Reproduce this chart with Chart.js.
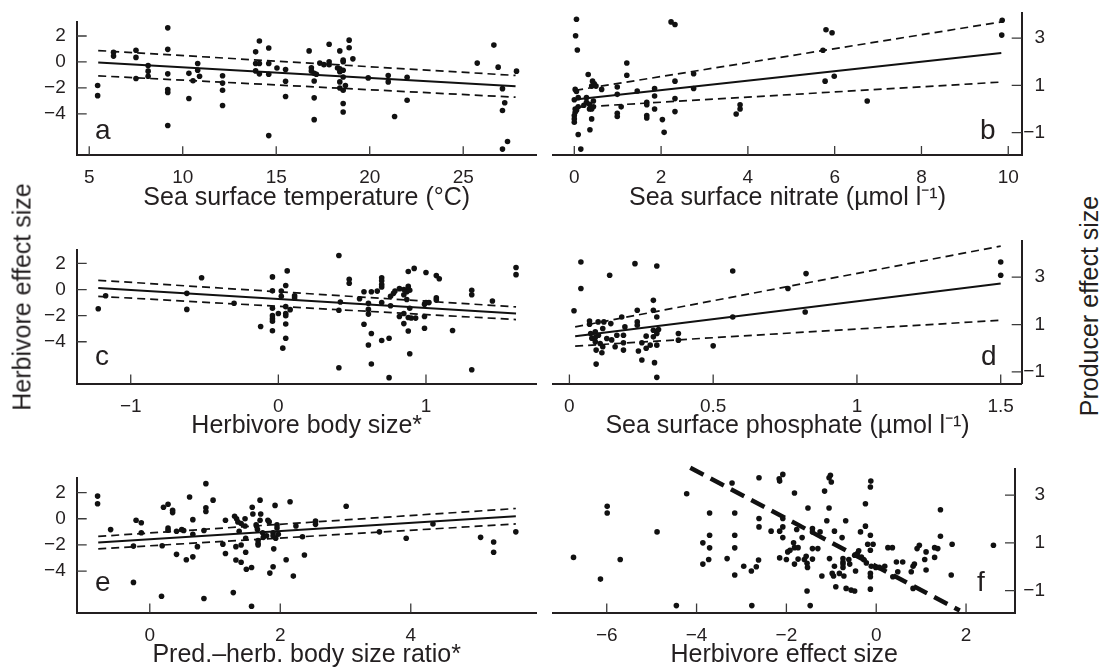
<!DOCTYPE html>
<html><head><meta charset="utf-8">
<script src="https://cdn.jsdelivr.net/npm/chart.js@4.4.1/dist/chart.umd.min.js"></script>
<style>
html,body{margin:0;padding:0;width:1099px;height:669px;overflow:hidden;background:#fff;}
.wrap{position:absolute;}
.lbl{position:absolute;font-family:"Liberation Sans",Arial,Helvetica,sans-serif;color:#231f20;white-space:nowrap;line-height:1;}
.side{font-size:25px;transform:translate(-50%,-50%) rotate(-90deg);}
.let{font-size:28px;line-height:28px;}
</style></head><body>
<div class="wrap" style="left:0;top:0;width:545px;height:213px"><canvas id="ca"></canvas></div>
<div class="wrap" style="left:545px;top:0;width:500px;height:213px"><canvas id="cb"></canvas></div>
<div class="wrap" style="left:0;top:228px;width:545px;height:213px"><canvas id="cc"></canvas></div>
<div class="wrap" style="left:545px;top:228px;width:500px;height:213px"><canvas id="cd"></canvas></div>
<div class="wrap" style="left:0;top:456px;width:545px;height:214px"><canvas id="ce"></canvas></div>
<div class="wrap" style="left:545px;top:456px;width:500px;height:214px"><canvas id="cf"></canvas></div>

<div class="lbl side" style="left:22px;top:297px">Herbivore effect size</div>
<div class="lbl side" style="left:1089px;top:306px">Producer effect size</div>
<div class="lbl let" style="left:95px;top:116px">a</div>
<div class="lbl let" style="left:980px;top:116px">b</div>
<div class="lbl let" style="left:95px;top:342px">c</div>
<div class="lbl let" style="left:981px;top:342px">d</div>
<div class="lbl let" style="left:95px;top:568px">e</div>
<div class="lbl let" style="left:977px;top:568px">f</div>

<script>
// ---------- DATA ----------
// a: Sea surface temperature vs herbivore effect size
const tempX = [5.45,5.45,6.3,6.3,7.5,7.5,7.5,8.15,8.15,8.15,9.2,9.2,9.2,9.2,9.2,9.2,10.33,10.33,10.55,10.8,10.8,10.9,12.13,12.13,12.13,12.13,13.9,13.9,13.9,14.1,14.1,14.1,14.6,14.6,14.6,14.6,15.04,15.5,15.5,15.5,16.76,16.88,16.88,17.03,17.03,17.03,17.03,17.15,17.33,17.55,17.83,17.83,17.83,18.28,18.4,18.4,18.4,18.4,18.4,18.58,18.58,18.58,18.58,18.58,18.58,18.58,18.7,18.9,18.9,19.1,19.92,20.99,20.99,21.33,22.0,22.0,25.75,26.64,26.87,27.1,27.1,27.22,27.1,27.37,27.85];
const tempY = [-1.82,-2.6,0.75,0.45,0.9,0.35,-1.28,-0.28,-0.71,-1.1,2.63,0.97,-0.92,-2.13,-2.35,-4.9,-2.82,-0.88,-1.45,-0.12,-0.64,-1.1,-1.07,-1.63,-2.18,-3.36,0.78,-0.12,-0.69,1.61,-0.12,-0.92,1.07,-0.12,-0.95,-5.68,-0.47,-0.59,-1.49,-2.67,0.85,-0.45,-0.69,-0.88,-1.47,-2.77,-4.45,-0.95,-0.09,-0.21,1.37,0.02,-0.21,-0.47,0.85,-0.52,-0.76,-1.54,-2.01,0.14,0.02,-0.64,-1.16,-2.18,-3.2,-3.86,-1.82,1.68,1.09,0.24,-1.23,-1.04,-1.54,-4.21,-1.18,-2.96,-0.09,1.3,-0.4,-2.06,-3.74,-3.15,-6.72,-6.13,-0.71];
const tempFitX = [5.48, 27.8];
const tempFit = [-0.05, -1.87], tempHi = [0.88, -1.04], tempLo = [-1.07, -2.72];

// b: Sea surface nitrate vs producer effect size
const nitX = [0.05,0.03,0.07,0.02,0.05,0.0,0.09,0.02,0.02,0.0,0.0,0.0,0.09,0.05,0.09,0.15,0.22,0.28,0.28,0.32,0.35,0.35,0.36,0.4,0.4,0.4,0.42,0.46,0.5,0.44,0.44,0.63,0.99,0.99,0.99,0.99,1.08,1.21,1.21,1.45,1.67,1.67,1.67,1.67,1.85,1.85,1.85,2.03,2.07,2.23,2.32,2.32,2.32,2.32,2.75,2.75,3.73,3.82,3.82,5.73,5.78,5.8,5.94,5.99,6.75,9.86,9.85];
const nitY = [3.8,3.1,2.5,0.83,0.74,0.39,0.48,0.0,-0.14,-0.28,-0.42,-0.56,0.09,-0.05,-1.08,-1.7,0.16,0.48,0.28,1.46,0.2,0.0,-0.88,0.97,0.0,-0.42,1.18,1.07,0.97,0.34,0.09,0.83,0.93,0.62,-0.18,-0.32,0.09,1.95,1.43,0.76,0.28,0.18,-0.28,-0.38,0.87,0.55,0.0,-0.45,-0.99,3.69,3.58,1.18,0.44,-0.11,1.49,0.87,-0.21,0.0,0.18,2.49,1.18,3.36,3.23,1.39,0.34,3.76,3.13];
const nitFitX = [0.02, 9.84];
const nitFit = [0.4, 2.37], nitHi = [0.79, 3.69], nitLo = [0.07, 1.14];

// c: Herbivore body size vs herbivore effect size
const bodyX = [-1.22,-1.17,-0.62,-0.62,-0.52,-0.3,-0.12,-0.04,-0.04,-0.04,-0.04,-0.04,-0.04,-0.04,0.0,0.02,0.02,0.03,0.05,0.05,0.05,0.05,0.05,0.05,0.06,0.08,0.11,0.11,0.41,0.41,0.41,0.42,0.48,0.48,0.55,0.58,0.58,0.61,0.61,0.61,0.61,0.63,0.63,0.63,0.67,0.7,0.7,0.7,0.7,0.7,0.7,0.76,0.75,0.75,0.76,0.78,0.79,0.82,0.82,0.85,0.85,0.85,0.85,0.87,0.87,0.88,0.88,0.88,0.88,0.88,0.89,0.89,0.89,0.9,0.92,0.93,0.99,0.99,0.99,1.0,1.02,1.0,1.07,1.09,1.07,1.07,1.18,1.31,1.31,1.31,1.45,1.61,1.61];
const bodyY = [-1.47,-0.48,-0.29,-1.52,0.9,-1.05,-2.83,0.97,-0.1,-1.43,-2.0,-2.23,-2.42,-3.16,-1.83,-0.12,-0.52,-4.49,0.31,-1.31,-1.83,-2.0,-2.64,-3.73,1.43,-1.54,-0.48,-0.64,2.61,-5.99,-1.59,-0.95,0.78,0.48,-0.71,-0.17,-2.66,-1.05,-1.52,-1.88,-4.25,-0.17,-3.37,-5.7,-0.12,0.9,0.67,0.38,0.19,-1.0,-3.9,-1.24,-3.73,-6.75,-0.52,-0.29,-0.12,0.07,-2.07,0.0,-0.4,-1.83,-2.61,-0.17,-0.76,1.38,0.24,0.07,-2.14,-3.18,-0.05,-1.43,-4.92,-2.18,1.62,-2.19,-2.07,-2.97,-1.12,-1.0,-1.0,1.31,1.07,0.83,-0.64,-0.81,-3.14,-0.05,-0.4,-6.15,-0.88,1.69,1.14];
const bodyFitX = [-1.22, 1.61];
const bodyFit = [0.12, -1.83], bodyHi = [0.71, -1.33], bodyLo = [-0.52, -2.3];

// d: Sea surface phosphate vs producer effect size
const phosX = [0.016,0.04,0.04,0.07,0.07,0.074,0.078,0.09,0.09,0.09,0.093,0.093,0.1,0.101,0.107,0.113,0.116,0.116,0.12,0.13,0.14,0.144,0.147,0.159,0.165,0.182,0.188,0.188,0.188,0.193,0.228,0.236,0.236,0.236,0.24,0.252,0.252,0.267,0.267,0.281,0.292,0.292,0.292,0.292,0.296,0.304,0.304,0.304,0.304,0.304,0.31,0.379,0.379,0.5,0.568,0.568,0.76,0.823,0.82,1.5,1.5];
const phosY = [1.58,3.64,2.52,1.15,1.01,0.62,0.42,0.69,0.45,0.27,-0.08,-0.67,1.11,0.55,0.2,-0.19,0.83,0.06,1.11,0.41,3.08,1.04,0.35,0.06,0.55,1.32,0.55,0.23,-0.08,0.9,3.57,1.6,1.11,0.97,-0.12,0.23,-0.5,0.51,0.0,0.13,2.02,1.6,0.76,0.48,-0.61,-1.23,3.47,1.32,0.62,0.13,0.79,0.62,0.34,0.1,1.32,3.26,2.52,3.15,1.53,3.64,3.08];
const phosFitX = [0.02, 1.5];
const phosFit = [0.51, 2.73], phosHi = [0.9, 4.31], phosLo = [0.09, 1.18];

// e: Predator-herbivore body size ratio vs herbivore effect size
const ratioX = [-0.8,-0.8,-0.6,-0.25,-0.25,-0.21,-0.13,-0.13,0.18,0.19,0.21,0.28,0.28,0.28,0.35,0.35,0.41,0.41,0.49,0.52,0.56,0.61,0.66,0.66,0.66,0.73,0.83,0.86,0.86,0.86,0.83,0.97,1.12,1.16,1.16,1.28,1.3,1.33,1.35,1.32,1.32,1.37,1.4,1.4,1.4,1.46,1.46,1.47,1.47,1.48,1.56,1.56,1.57,1.58,1.63,1.64,1.65,1.66,1.66,1.66,1.69,1.69,1.7,1.73,1.74,1.79,1.81,1.83,1.84,1.89,1.89,1.89,1.9,1.92,1.93,1.95,1.95,1.97,2.09,2.15,2.2,2.24,2.34,2.37,2.54,2.54,3.01,3.52,3.93,4.34,5.07,5.27,5.27,5.61];
const ratioY = [1.73,1.14,-0.83,-4.86,-2.09,-0.12,-0.31,-1.07,-5.92,-2.06,0.88,1.11,-0.71,-0.88,0.64,0.47,-0.95,-2.72,-0.83,-0.9,-3.13,1.66,-0.07,-2.91,-1.18,-2.13,-6.09,0.83,0.55,2.68,-0.9,1.42,-1.94,-0.12,-2.65,-5.64,0.19,0.0,-0.24,-2.13,-3.15,-0.95,-0.36,-2.01,-3.32,0.0,-0.55,-1.49,-2.56,-3.86,-3.72,-6.68,0.88,0.36,-0.47,-0.6,-0.83,-1.66,-1.9,-2.01,1.42,-0.12,0.36,-1.07,-1.42,-1.3,-0.12,-0.24,-4.15,-1.07,-1.3,-3.67,-2.3,1.02,-1.49,-0.47,-0.71,-1.18,-3.13,1.3,-4.38,-0.55,-1.37,-2.77,-0.17,-0.43,0.95,-1.0,-1.49,-0.4,-1.42,-1.78,-2.56,-1.0];
const ratioFitX = [-0.79, 5.61];
const ratioFit = [-1.82, 0.19], ratioHi = [-1.35, 0.78], ratioLo = [-2.3, -0.4];

// f: Herbivore effect size vs producer effect size
const herbX = [-6.74,-6.14,-5.99,-5.99,-5.7,-4.88,-4.45,-4.22,-3.86,-3.86,-3.73,-3.71,-3.71,-3.71,-3.32,-3.21,-3.15,-3.15,-3.15,-3.15,-2.95,-2.78,-2.77,-2.67,-2.62,-2.61,-2.61,-2.61,-2.34,-2.16,-2.15,-2.15,-2.15,-2.08,-2.08,-2.08,-2.08,-2.0,-1.97,-1.92,-1.84,-1.82,-1.82,-1.74,-1.82,-1.77,-1.74,-1.65,-1.6,-1.56,-1.54,-1.53,-1.54,-1.52,-1.47,-1.42,-1.42,-1.42,-1.42,-1.3,-1.25,-1.21,-1.15,-1.1,-1.05,-1.02,-1.05,-1.04,-1.0,-0.98,-0.95,-0.93,-0.9,-0.93,-0.82,-0.76,-0.74,-0.74,-0.74,-0.74,-0.72,-0.68,-0.67,-0.61,-0.59,-0.56,-0.48,-0.48,-0.46,-0.42,-0.39,-0.35,-0.33,-0.28,-0.24,-0.24,-0.22,-0.19,-0.13,-0.12,-0.13,-0.13,-0.13,-0.13,-0.13,-0.11,-0.07,-0.01,0.07,0.19,0.26,0.36,0.37,0.45,0.48,0.59,0.78,0.82,0.85,0.82,0.91,0.96,1.08,1.11,1.11,1.3,1.3,1.37,1.43,1.43,1.67,1.69,2.61];
const herbY = [0.39,-0.52,2.53,2.25,0.3,1.46,-1.63,3.06,1.0,0.11,0.3,2.25,1.32,0.79,0.34,3.51,2.25,1.32,0.79,-0.35,0.02,-0.18,-1.63,0.0,0.28,3.73,2.02,1.67,1.49,3.69,3.59,1.49,0.37,3.87,2.02,1.67,1.22,0.3,0.62,0.69,1.0,3.09,0.8,0.8,0.11,1.56,0.32,1.22,0.3,0.44,0.14,-0.03,-1.02,2.46,-1.63,1.6,1.46,0.76,0.32,0.76,1.46,-0.39,3.17,1.93,3.73,3.83,2.46,0.34,3.55,-0.28,-0.39,1.49,-0.84,0.02,-0.28,1.22,0.34,0.2,0.11,-0.03,-0.39,1.93,-0.91,0.3,0.11,-0.98,-1.02,0.48,-0.18,0.55,0.67,1.46,0.41,0.3,2.64,1.7,0.16,0.94,3.34,3.59,1.32,0.69,-0.28,-0.42,-0.94,0.02,0.94,-0.03,-0.03,0.02,0.8,0.8,-0.42,0.2,-0.21,0.2,-0.21,0.02,0.11,-0.91,0.76,0.9,0.3,0.62,-0.14,0.8,0.39,0.76,2.39,1.28,-0.35,0.94,0.9];
const herbFitX = [-4.14, 1.86];
const herbFit = [4.15, -1.84];

// tick values
const ticksLeftY = [-4, -2, 0, 2];
const ticksRightY = [-1, 1, 3];
const ticksTemp = [5, 10, 15, 20, 25];
const ticksNit = [0, 2, 4, 6, 8, 10];
const ticksBody = [-1, 0, 1];
const ticksPhos = [0, 0.5, 1, 1.5];
const ticksRatio = [0, 2, 4];
const ticksHerb = [-6, -4, -2, 0, 2];

// ---------- DRAWING ----------
const FONT = '"Liberation Sans", Arial, Helvetica, sans-serif';
const INK = '#231f20';
Chart.defaults.font.family = FONT;
Chart.defaults.color = INK;

function pts(xs, ys) { return xs.map((x, i) => ({x: x, y: ys[i]})); }
function fmt(v) { return v < 0 ? '\u2212' + Math.abs(v) : String(v); }

const inTicks = {
  id: 'inTicks',
  beforeDatasetsDraw(chart) {
    const {ctx, chartArea: a, scales: {x, y}} = chart;
    ctx.save();
    ctx.strokeStyle = '#3a3a3a';
    ctx.lineWidth = 1.3;
    ctx.beginPath();
    x.ticks.forEach(t => { const p = x.getPixelForValue(t.value); ctx.moveTo(p, a.bottom); ctx.lineTo(p, a.bottom - 9); });
    const right = y.options.position === 'right';
    y.ticks.forEach(t => {
      const p = y.getPixelForValue(t.value);
      const x0 = right ? a.right : a.left;
      ctx.moveTo(x0, p); ctx.lineTo(right ? x0 - 10 : x0 + 10, p);
    });
    ctx.stroke();
    ctx.restore();
  }
};

function makePanel(id, o) {
  const datasets = [{
    data: pts(o.xs, o.ys), showLine: false, pointRadius: 2.8, pointHoverRadius: 2.8,
    pointBackgroundColor: '#111', pointBorderWidth: 0, borderColor: '#111', clip: false
  }];
  o.lines.forEach(l => datasets.push({
    data: pts(o.fitX, l.y), showLine: true, pointRadius: 0, borderColor: '#111',
    borderWidth: l.w, borderDash: l.dash, fill: false, clip: false
  }));
  const right = o.side === 'right';
  new Chart(document.getElementById(id), {
    type: 'scatter',
    data: {datasets: datasets},
    plugins: [inTicks],
    options: {
      responsive: true, maintainAspectRatio: false, animation: false,
      layout: {padding: o.pad},
      plugins: {legend: {display: false}, tooltip: {enabled: false}},
      scales: {
        x: {
          type: 'linear', position: 'bottom', min: o.xMin, max: o.xMax,
          afterBuildTicks: s => { s.ticks = o.xTicks.map(v => ({value: v})); },
          afterFit: s => { s.height = o.xH; },
          grid: {display: false, drawTicks: false},
          border: {display: true, color: INK, width: 2},
          ticks: {padding: 11.5, font: {size: 19}, color: INK, maxRotation: 0, callback: v => fmt(v)},
          title: {display: true, text: o.xTitle, font: {size: 25}, color: INK, padding: {top: 0, bottom: 0}}
        },
        y: {
          type: 'linear', position: right ? 'right' : 'left', min: o.yMin, max: o.yMax,
          afterBuildTicks: s => { s.ticks = o.yTicks.map(v => ({value: v})); },
          afterFit: s => { s.width = o.yW; },
          grid: {display: false, drawTicks: false},
          border: {display: true, color: INK, width: 2},
          ticks: {padding: right ? 2 : 11, font: {size: 19}, color: INK, crossAlign: right ? 'far' : 'near', callback: v => fmt(v)}
        }
      }
    }
  });
}

const thin = [8, 5];
function bandLines(fit, hi, lo) {
  return [{y: fit, w: 2, dash: []}, {y: hi, w: 1.7, dash: thin}, {y: lo, w: 1.7, dash: thin}];
}

makePanel('ca', {xs: tempX, ys: tempY, fitX: tempFitX, lines: bandLines(tempFit, tempHi, tempLo),
  xMin: 4.33, xMax: 28.93, yMin: -7.2, yMax: 3.05, xTicks: ticksTemp, yTicks: ticksLeftY,
  xTitle: 'Sea surface temperature (\u00b0C)', side: 'left', pad: {top: 11.7, right: 8.3, left: 0, bottom: 0}, yW: 76.7, xH: 57.7});
makePanel('cb', {xs: nitX, ys: nitY, fitX: nitFitX, lines: bandLines(nitFit, nitHi, nitLo),
  xMin: -0.484, xMax: 10.31, yMin: -1.95, yMax: 4.05, xTicks: ticksNit, yTicks: ticksRightY,
  xTitle: 'Sea surface nitrate (\u00b5mol l\u207b\u00b9)', side: 'right', pad: {top: 11.7, right: 0, left: 8.3, bottom: 0}, yW: 23.3, xH: 58});
makePanel('cc', {xs: bodyX, ys: bodyY, fitX: bodyFitX, lines: bandLines(bodyFit, bodyHi, bodyLo),
  xMin: -1.366, xMax: 1.75, yMin: -7.2, yMax: 3.0, xTicks: ticksBody, yTicks: ticksLeftY,
  xTitle: 'Herbivore body size*', side: 'left', pad: {top: 12.7, right: 8.3, left: 0, bottom: 0}, yW: 76.7, xH: 57.5});
makePanel('cd', {xs: phosX, ys: phosY, fitX: phosFitX, lines: bandLines(phosFit, phosHi, phosLo),
  xMin: -0.056, xMax: 1.573, yMin: -1.49, yMax: 4.51, xTicks: ticksPhos, yTicks: ticksRightY,
  xTitle: 'Sea surface phosphate (\u00b5mol l\u207b\u00b9)', side: 'right', pad: {top: 12.7, right: 0, left: 8.3, bottom: 0}, yW: 23.3, xH: 57.5});
makePanel('ce', {xs: ratioX, ys: ratioY, fitX: ratioFitX, lines: bandLines(ratioFit, ratioHi, ratioLo),
  xMin: -1.12, xMax: 5.93, yMin: -7.16, yMax: 3.08, xTicks: ticksRatio, yTicks: ticksLeftY,
  xTitle: 'Pred.\u2013herb. body size ratio*', side: 'left', pad: {top: 12.3, right: 8.3, left: 0, bottom: 0}, yW: 76.7, xH: 57.5});
makePanel('cf', {xs: herbX, ys: herbY, fitX: herbFitX, lines: [{y: herbFit, w: 4.5, dash: [15, 8]}],
  xMin: -7.19, xMax: 3.09, yMin: -1.92, yMax: 4.08, xTicks: ticksHerb, yTicks: ticksRightY,
  xTitle: 'Herbivore effect size', side: 'right', pad: {top: 13.3, right: 0, left: 8.3, bottom: 0}, yW: 30, xH: 57.5});
</script>
</body></html>
